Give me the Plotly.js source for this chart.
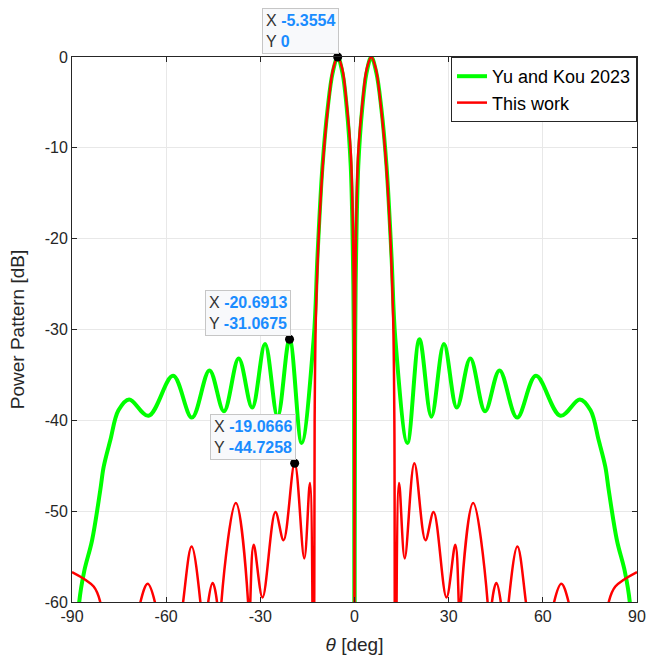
<!DOCTYPE html>
<html>
<head>
<meta charset="utf-8">
<script src="https://cdn.plot.ly/plotly-3.0.1.min.js"></script>
<style>html,body{margin:0;padding:0;background:#fff;}#chart{width:650px;height:660px;}</style>
</head>
<body>
<div id="chart"></div>
<script>
// ---- Data ----
const seriesNames = ["Yu and Kou 2023", "This work"];

const yuKouTheta = [
  -88.3,-87.7,-86.1,-83.6,-81.0,-79.9,-77.8,-75.2,-71.8,-65.6,-57.8,-51.8,-46.2,-41.6,-36.9,-32.6,-28.5,-24.5,-20.6913,-16.85,-13.0,-11.8,-10.2,-8.5,-7.0,-5.3554,-3.8,-2.5,-1.2,-0.5,-0.2,0,
  0.2,0.5,1.2,2.5,3.8,5.3554,7.0,8.5,10.2,11.8,13.0,16.85,20.6913,24.5,28.5,32.6,36.9,41.6,46.2,51.8,57.8,65.6,71.8,75.2,77.8,79.9,81.0,83.6,86.1,87.7,88.3
];
const yuKouPower = [
  -64,-60,-56.6,-53.2,-47.7,-45.1,-42.2,-38.9,-37.7,-39.5,-35.1,-39.7,-34.5,-39.0,-33.2,-38.6,-31.6,-39.6,-31.0675,-42.5,-31,-22,-12,-5.5,-1.8,0,-1.8,-5.5,-12,-22,-32,-80,
  -32,-22,-12,-5.5,-1.8,0,-1.8,-5.5,-12,-22,-31,-42.5,-31.0675,-39.6,-31.6,-38.6,-33.2,-39.0,-34.5,-39.7,-35.1,-39.5,-37.7,-38.9,-42.2,-45.1,-47.7,-53.2,-56.6,-60,-64
];

const thisWorkTheta = [
  -90,-83.1,-81.0,-79.5,-74,-68.2,-65.9,-63.6,-59,-54.6,-51.9,-49.1,-47.8,-46.6,-45.2,-43.8,-43.1,-42.4,-37.8,-33.9,-33.6,-33.2,-32.1,-29.3,-25.2,-22.6,-19.0666,-16.0,-14.2,-13.0,-12.7,-12.3,-11.3,-9.8,-8.2,-6.8,-5.3554,-3.9,-2.6,-1.2,-0.5,-0.15,0,
  0.15,0.5,1.2,2.6,3.9,5.3554,6.8,8.2,9.8,11.3,12.3,12.7,13.0,14.2,16.0,19.0666,22.6,25.2,29.3,32.1,33.2,33.6,33.9,37.8,42.4,43.1,43.8,45.2,46.6,47.8,49.1,51.9,54.6,59,63.6,65.9,68.2,74,79.5,81.0,83.1,90
];
const thisWorkPower = [
  -56.7,-58.3,-60,-64,-75,-60,-58.0,-60,-75,-60,-53.9,-60,-68,-60,-57.9,-60,-75,-60,-49.1,-60,-75,-60,-53.7,-59.5,-50.1,-53.2,-44.7258,-55.2,-46.9,-80,-40,-28.5,-19,-10.5,-4.8,-1.3,0,-1.3,-4.8,-10.5,-19,-30,-80,
  -30,-19,-10.5,-4.8,-1.3,0,-1.3,-4.8,-10.5,-19,-28.5,-40,-80,-46.9,-55.2,-44.7258,-53.2,-50.1,-59.5,-53.7,-60,-75,-60,-49.1,-60,-75,-60,-57.9,-60,-68,-60,-53.9,-60,-75,-60,-58.0,-60,-75,-64,-60,-58.3,-56.7
];

// data tips
const tipTheta = [-5.3554, -20.6913, -19.0666];
const tipPower = [0, -31.0675, -44.7258];
const tipXText = ["-5.3554", "-20.6913", "-19.0666"];
const tipYText = ["0", "-31.0675", "-44.7258"];

const xTicks = [-90, -60, -30, 0, 30, 60, 90];
const yTicks = [-60, -50, -40, -30, -20, -10, 0];

// ---- Chart ----
const FONT = "Liberation Sans, Arial, Helvetica, sans-serif";
const AXC = "#262626";
const BLUE = "#1a8cff";

const traces = [
  {x: yuKouTheta, y: yuKouPower, name: seriesNames[0], type: "scatter", mode: "lines",
   line: {color: "#00ff00", width: 4, shape: "spline", smoothing: 1}},
  {x: thisWorkTheta, y: thisWorkPower, name: seriesNames[1], type: "scatter", mode: "lines",
   line: {color: "#ff0000", width: 2.5, shape: "spline", smoothing: 1}},
  {x: tipTheta, y: tipPower, type: "scatter", mode: "markers", showlegend: false, cliponaxis: false,
   marker: {color: "#000", size: 9}, hoverinfo: "skip"}
];

const annotations = tipTheta.map((t, i) => ({
  x: t, y: tipPower[i], xref: "x", yref: "y",
  xanchor: "right", yanchor: "bottom", showarrow: false, yshift: 3, xshift: 1,
  align: "left",
  text: "X <span style='color:" + BLUE + "'><b>" + tipXText[i] + "</b></span><br>Y <span style='color:" + BLUE + "'><b>" + tipYText[i] + "</b></span>",
  font: {family: FONT, size: 16, color: "#333"},
  bgcolor: "#f8f9fb", bordercolor: "#c6c6c6", borderwidth: 1, borderpad: 3
}));

const layout = {
  width: 650, height: 660,
  margin: {l: 72, r: 13, t: 57, b: 58},
  paper_bgcolor: "#fff", plot_bgcolor: "#fff",
  font: {family: FONT, color: AXC},
  showlegend: true,
  legend: {x: 1, y: 1, xanchor: "right", yanchor: "top", bgcolor: "#fff",
           bordercolor: AXC, borderwidth: 1, font: {family: FONT, size: 18, color: "#000"},
           tracegroupgap: 0},
  xaxis: {range: [-90, 90], tickvals: xTicks, ticktext: xTicks.map(String),
          ticks: "inside", ticklen: 5, tickcolor: AXC, mirror: "allticks", showline: true,
          linecolor: AXC, linewidth: 1, showgrid: true, gridcolor: "#e8e8e8", zeroline: false,
          tickfont: {family: FONT, size: 16, color: AXC},
          title: {text: "<i>θ</i> [deg]", font: {family: FONT, size: 19, color: AXC}, standoff: 13}},
  yaxis: {range: [-60, 0], tickvals: yTicks, ticktext: yTicks.map(String),
          ticks: "inside", ticklen: 5, tickcolor: AXC, mirror: "allticks", showline: true,
          linecolor: AXC, linewidth: 1, showgrid: true, gridcolor: "#e8e8e8", zeroline: false,
          tickfont: {family: FONT, size: 16, color: AXC},
          title: {text: "Power Pattern [dB]", font: {family: FONT, size: 19, color: AXC}, standoff: 15}},
  annotations: annotations
};

Plotly.newPlot("chart", traces, layout, {displayModeBar: false, staticPlot: true});
</script>
</body>
</html>
